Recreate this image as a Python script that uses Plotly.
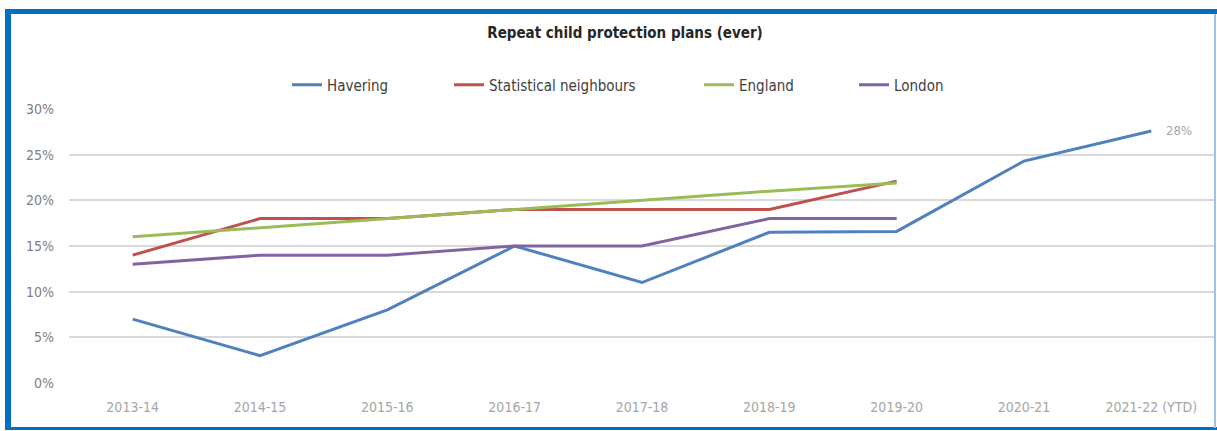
import plotly.graph_objects as go

# ---- data ----
categories = ["2013-14", "2014-15", "2015-16", "2016-17", "2017-18",
              "2018-19", "2019-20", "2020-21", "2021-22 (YTD)"]
havering = [7, 3, 8, 15, 11, 16.5, 16.6, 24.3, 27.6]
stat_neighbours = [14, 18, 18, 19, 19, 19, 22.1]
england = [16, 17, 18, 19, 20, 21, 21.9]
london = [13, 14, 14, 15, 15, 18, 18]
y_ticks = [0, 5, 10, 15, 20, 25, 30]
y_tick_labels = ["0%", "5%", "10%", "15%", "20%", "25%", "30%"]
last_label = "28%"

W, H = 1217, 431
ML, MR, MT, MB = 69, 2, 109, 48
PW = W - ML - MR
PH = H - MT - MB


def px_x(px):
    return (px - ML) / PW


def px_y(py):
    return (H - MB - py) / PH


FONT = "DejaVu Sans Condensed, Liberation Sans Narrow, sans-serif"

series = [
    ("Havering", havering, "#4F81BD", "legend"),
    ("Statistical neighbours", stat_neighbours, "#C0504D", "legend2"),
    ("England", england, "#9BBB59", "legend3"),
    ("London", london, "#8064A2", "legend4"),
]

fig = go.Figure()
for name, vals, color, lg in series:
    fig.add_trace(go.Scatter(
        x=list(range(len(vals))), y=vals, mode="lines", name=name,
        line=dict(color=color, width=3), legend=lg, showlegend=True,
    ))

fig.add_annotation(x=len(havering) - 1, y=havering[-1], xref="x", yref="y",
                   text=last_label, showarrow=False, xanchor="left", xshift=13,
                   font=dict(family=FONT, size=13, color="#a6a6a6"))

legend_px = [287, 449, 699, 854]
legend_common = dict(orientation="h", yanchor="middle", xanchor="left",
                     font=dict(family=FONT, size=15, color="#404040"),
                     bgcolor="rgba(0,0,0,0)", itemwidth=30)
layout_legends = {}
for i, key in enumerate(["legend", "legend2", "legend3", "legend4"]):
    layout_legends[key] = dict(legend_common, x=px_x(legend_px[i]), y=px_y(85))

blue = "#0070C0"
shapes = [
    dict(type="rect", xref="paper", yref="paper", x0=px_x(5), x1=px_x(1217),
         y0=px_y(14), y1=px_y(9), fillcolor=blue, line=dict(width=0)),
    dict(type="rect", xref="paper", yref="paper", x0=px_x(5), x1=px_x(11),
         y0=px_y(430), y1=px_y(9), fillcolor=blue, line=dict(width=0)),
    dict(type="rect", xref="paper", yref="paper", x0=px_x(5), x1=px_x(1217),
         y0=px_y(430), y1=px_y(427), fillcolor=blue, line=dict(width=0)),
    dict(type="rect", xref="paper", yref="paper", x0=px_x(1214), x1=px_x(1216),
         y0=px_y(428), y1=px_y(14), fillcolor="#9DC3E6", line=dict(width=0)),
]

fig.update_layout(
    width=W, height=H,
    margin=dict(l=ML, r=MR, t=MT, b=MB),
    paper_bgcolor="white", plot_bgcolor="white",
    showlegend=True,
    title=dict(text="<b>Repeat child protection plans (ever)</b>",
               x=625 / W, xanchor="center", y=1 - 33 / H, yanchor="middle",
               font=dict(family=FONT, size=15, color="#262626")),
    xaxis=dict(range=[-0.5, len(categories) - 0.5], tickmode="array",
               tickvals=list(range(len(categories))), ticktext=categories,
               showgrid=False, zeroline=False, showline=False, ticks="",
               ticklabelstandoff=14,
               tickfont=dict(family=FONT, size=14, color="#a6a6a6")),
    yaxis=dict(range=[0, 30], tickmode="array", tickvals=y_ticks,
               ticktext=y_tick_labels, showgrid=True, gridcolor="#d9d9d9",
               gridwidth=1.5, zeroline=False, showline=False, ticks="",
               ticklabelstandoff=14,
               tickfont=dict(family=FONT, size=14, color="#808080")),
    shapes=shapes,
    **layout_legends,
)

fig.write_html("out.html")
